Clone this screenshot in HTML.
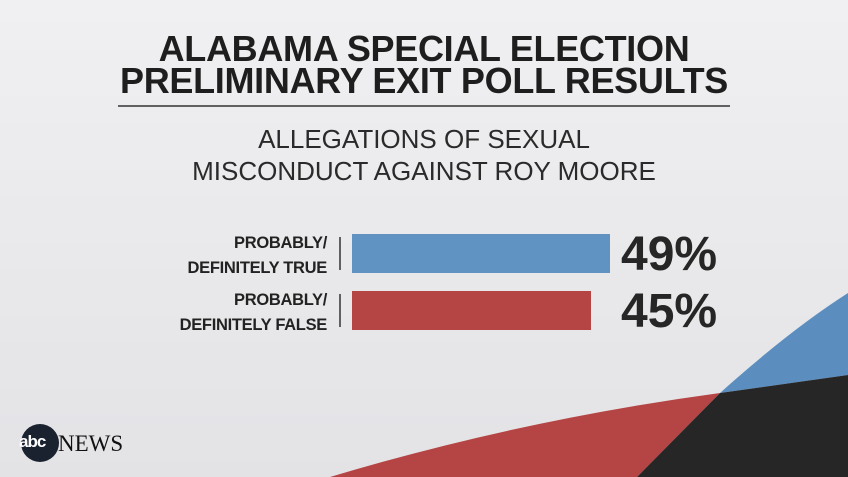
<!DOCTYPE html><html><head><style>
body{margin:0;width:848px;height:477px;overflow:hidden;background:linear-gradient(180deg,#f0f0f2,#e3e3e6);font-family:"Liberation Sans",sans-serif;position:relative}
.t{position:absolute;left:0;width:848px;text-align:center;color:#1e1e1e}
.h{font-weight:bold;font-size:36px;letter-spacing:-0.3px}
.s{font-size:26px;color:#2a2a2a}
.l{position:absolute;right:521px;text-align:right;font-weight:bold;font-size:16.5px;line-height:25px;color:#222;letter-spacing:-0.3px}
.p{position:absolute;left:621px;font-weight:bold;font-size:48px;color:#262626}
</style></head><body>
<svg width="848" height="477" style="position:absolute;left:0;top:0">
<path d="M330 477 Q520 420 720 393 L637 477Z" fill="#b54444"/>
<path d="M720 393 Q790 330 848 293 L848 375Z" fill="#5b8ebf"/>
<path d="M637 477 L720 393 L848 375 L848 477Z" fill="#262626"/>
<line x1="118" y1="106" x2="730" y2="106" stroke="#333" stroke-width="1.5"/>
<rect x="352" y="234" width="258" height="39" fill="#6193c2"/>
<rect x="352" y="291" width="239" height="39" fill="#b54444"/>
<line x1="340" y1="237" x2="340" y2="270" stroke="#333" stroke-width="1.5"/>
<line x1="340" y1="294" x2="340" y2="327" stroke="#333" stroke-width="1.5"/>
<circle cx="40" cy="443" r="19" fill="#1a2230"/>
</svg>
<div class="t h" style="top:28px">ALABAMA SPECIAL ELECTION</div>
<div class="t h" style="top:60px">PRELIMINARY EXIT POLL RESULTS</div>
<div class="t s" style="top:124px">ALLEGATIONS OF SEXUAL</div>
<div class="t s" style="top:156px">MISCONDUCT AGAINST ROY MOORE</div>
<div class="l" style="top:231px">PROBABLY/<br>DEFINITELY TRUE</div>
<div class="l" style="top:288px">PROBABLY/<br>DEFINITELY FALSE</div>
<div class="p" style="top:227px">49%</div>
<div class="p" style="top:284px">45%</div>
<div style="position:absolute;left:19px;top:432px;font-size:17px;font-weight:bold;color:#fff;letter-spacing:-1px">abc</div>
<div style="position:absolute;left:58px;top:431px;font-family:'Liberation Serif',serif;font-size:23px;color:#111">NEWS</div>
</body></html>
